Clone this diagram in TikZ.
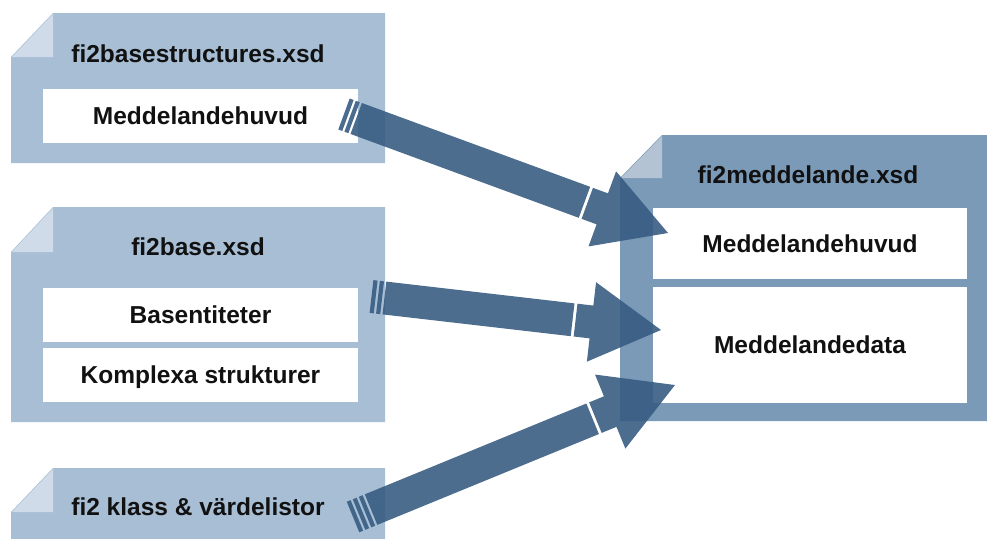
\documentclass[tikz,border=0pt]{standalone}
\usepackage{fontspec}
\setmainfont{Liberation Sans}
\usetikzlibrary{calc}

\definecolor{doclight}{RGB}{167,190,213}
\definecolor{foldlight}{RGB}{207,219,232}
\definecolor{docdark}{RGB}{122,154,183}
\definecolor{folddark}{RGB}{180,195,212}
\definecolor{arrowblue}{RGB}{56,93,130}
\definecolor{inktext}{RGB}{17,17,17}

\tikzset{
  docsheet/.style={fill=doclight},
  docsheetdark/.style={fill=docdark},
  docfold/.style={fill=foldlight},
  docfolddark/.style={fill=folddark},
  fieldbox/.style={fill=white, inner sep=0pt, minimum width=315pt, minimum height=54pt,
    text height=17.6pt, text depth=0pt, text=inktext,
    font=\bfseries\fontsize{24.5}{28}\selectfont},
  doctitle/.style={anchor=base, inner sep=0pt, text=inktext,
    font=\bfseries\fontsize{24.5}{28}\selectfont},
  arrowbody/.style={fill=arrowblue, fill opacity=0.9},
}

% Broad arrow from tail #1 to tip #2, with #3 thin stripes at the tail
% and a narrow break just before the head.
\newcommand\fatarrow[3]{%
  \pgfmathanglebetweenpoints{\pgfpointanchor{#1}{center}}{\pgfpointanchor{#2}{center}}%
  \let\faAngle\pgfmathresult
  \pgfpointdiff{\pgfpointanchor{#1}{center}}{\pgfpointanchor{#2}{center}}%
  \pgfgetlastxy{\faDx}{\faDy}%
  \pgfmathparse{veclen(\faDx,\faDy)}\let\faLen\pgfmathresult
  \begin{scope}[shift={(#1)}, rotate=\faAngle, x=1pt, y=1pt]
    \foreach \i in {1,...,#3} {
      \fill[arrowbody] ({(\i-1)*6.5},-16.5) rectangle ++(4.2,33);
    }
    \fill[arrowbody] ({#3*6.5},-16.5) rectangle ({\faLen-70-19},16.5);
    \fill[arrowbody] ({\faLen-70-16},-16.5) -- ({\faLen-70},-16.5) -- ({\faLen-70},-40)
      -- (\faLen,0) -- ({\faLen-70},40) -- ({\faLen-70},16.5)
      -- ({\faLen-70-16},16.5) -- cycle;
  \end{scope}
}

\begin{document}
\begin{tikzpicture}[x=1pt, y=-1pt]
\useasboundingbox (0,0) rectangle (987,538);

% --- fi2basestructures.xsd
\fill[docsheet] (53,13) -- (385,13) -- (385,163) -- (11,163) -- (11,57) -- cycle;
\fill[docfold] (53,14) -- (53,57) -- (12,57) -- cycle;
\node[doctitle] (t1) at (198,62) {fi2basestructures.xsd};
\node[fieldbox] (bs1) at (200.5,116) {Meddelandehuvud};

% --- fi2base.xsd
\fill[docsheet] (53,207) -- (385,207) -- (385,422) -- (11,422) -- (11,252) -- cycle;
\fill[docfold] (53,208) -- (53,252) -- (12,252) -- cycle;
\node[doctitle] (t2) at (198,255) {fi2base.xsd};
\node[fieldbox] (b1) at (200.5,315) {Basentiteter};
\node[fieldbox] (b2) at (200.5,375) {Komplexa strukturer};

% --- fi2 klass & värdelistor
\fill[docsheet] (53,468) -- (385,468) -- (385,545) -- (11,545) -- (11,512) -- cycle;
\fill[docfold] (53,469) -- (53,512) -- (12,512) -- cycle;
\node[doctitle] (t3) at (198,515) {fi2 klass \& värdelistor};

% --- fi2meddelande.xsd
\fill[docsheetdark] (662,135) -- (990,135) -- (990,421) -- (620,421) -- (620,178) -- cycle;
\fill[docfolddark] (662,136) -- (662,178) -- (621,178) -- cycle;
\node[doctitle] (t4) at (808,183) {fi2meddelande.xsd};
\node[fieldbox, minimum width=314pt, minimum height=71pt] (m1) at (810,243.5) {Meddelandehuvud};
\node[fieldbox, minimum width=314pt, minimum height=116pt] (m2) at (810,345) {Meddelandedata};

% --- arrow ends
\coordinate (a1) at (344,114);
\coordinate (h1) at (668,233);
\coordinate (a2) at (371.5,296.5);
\coordinate (h2) at (661,330);
\coordinate (a3) at (353,517);
\coordinate (h3) at (675,385);

\fatarrow{a1}{h1}{2}
\fatarrow{a2}{h2}{2}
\fatarrow{a3}{h3}{3}
\end{tikzpicture}
\end{document}
